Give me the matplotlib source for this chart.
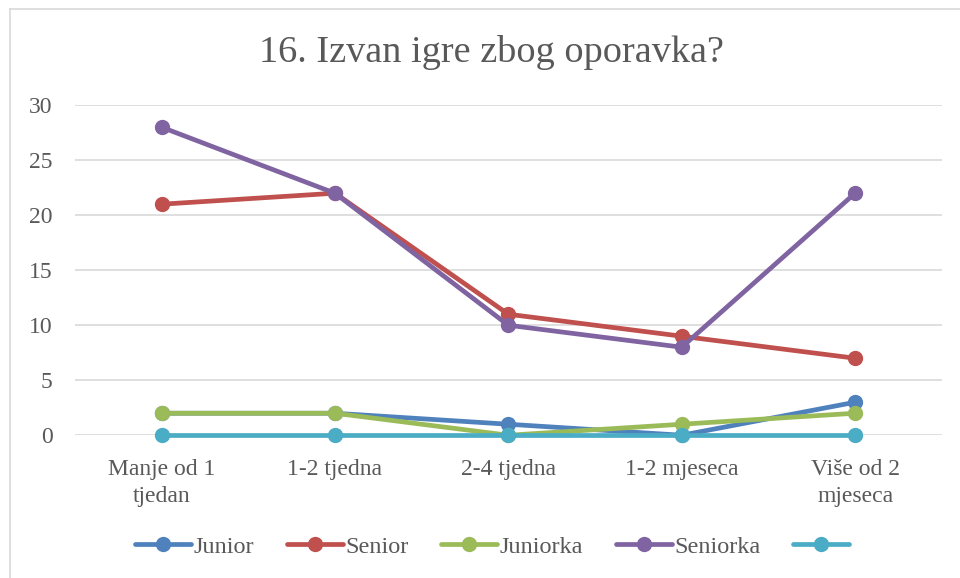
import matplotlib.pyplot as plt
from matplotlib.lines import Line2D

# Data
categories = ["Manje od 1\ntjedan", "1-2 tjedna", "2-4 tjedna", "1-2 mjeseca", "Više od 2\nmjeseca"]
junior = [2, 2, 1, 0, 3]
senior = [21, 22, 11, 9, 7]
juniorka = [2, 2, 0, 1, 2]
seniorka = [28, 22, 10, 8, 22]
unnamed = [0, 0, 0, 0, 0]

series_names = ["Junior", "Senior", "Juniorka", "Seniorka", " "]
series_values = [junior, senior, juniorka, seniorka, unnamed]
colors = ["#4F81BD", "#C0504D", "#9BBB59", "#8064A2", "#4BACC6"]

text_color = "#595959"
plt.rcParams["font.family"] = ["Liberation Serif", "DejaVu Serif"]

fig = plt.figure(figsize=(9.6, 5.78), dpi=100)
ax = fig.add_axes([0.078, 0.247, 0.903, 0.571])

# chart border (only top and left edges are visible in the crop)
bx, by = 9.5 / 960, 1 - 8.5 / 578
fig.lines.append(Line2D([bx, 1], [by, by], transform=fig.transFigure,
                        color="#D9D9D9", linewidth=1.2))
fig.lines.append(Line2D([bx, bx], [0, by], transform=fig.transFigure,
                        color="#D9D9D9", linewidth=1.2))

x = list(range(len(categories)))
for name, vals, c in zip(series_names, series_values, colors):
    ax.plot(x, vals, color=c, linewidth=3.4, marker="o", markersize=10,
            label=name, solid_capstyle="round", clip_on=False, zorder=3)

ax.set_xlim(-0.5, len(categories) - 0.5)
ax.set_ylim(0, 30)
ax.set_yticks(range(0, 31, 5))
ax.set_xticks(x)
ax.set_xticklabels(categories, fontsize=17, color=text_color, linespacing=1.4)
ax.tick_params(axis="y", labelsize=17, labelcolor=text_color, length=0, pad=16)
ax.tick_params(axis="x", length=0, pad=17)
ax.grid(axis="y", color="#D9D9D9", linewidth=1.2)
ax.set_axisbelow(True)
for s in ["top", "right", "left", "bottom"]:
    ax.spines[s].set_visible(False)

fig.text(0.512, 0.91, "16. Izvan igre zbog oporavka?", ha="center", va="center",
         fontsize=27.5, color=text_color)

fig.legend(loc="center", bbox_to_anchor=(0.517, 0.054), ncol=5, frameon=False,
           fontsize=17.5, labelcolor=text_color, handlelength=2.3,
           handletextpad=0.1, columnspacing=1.35, markerscale=1.0)

fig.savefig("out.png", dpi=100)
